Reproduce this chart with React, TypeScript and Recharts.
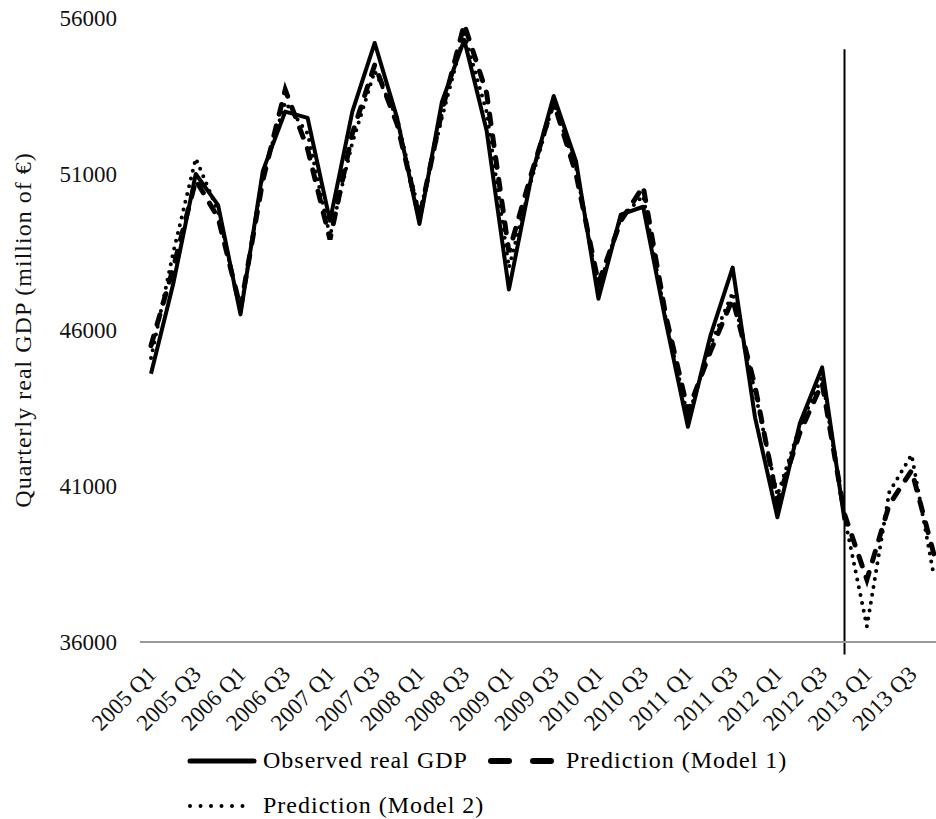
import React from "react";
import {
  LineChart,
  Line,
  XAxis,
  YAxis,
  Label,
  Legend,
  ReferenceLine,
} from "recharts";

const quarters = [
  "2005 Q1", "2005 Q2", "2005 Q3", "2005 Q4",
  "2006 Q1", "2006 Q2", "2006 Q3", "2006 Q4",
  "2007 Q1", "2007 Q2", "2007 Q3", "2007 Q4",
  "2008 Q1", "2008 Q2", "2008 Q3", "2008 Q4",
  "2009 Q1", "2009 Q2", "2009 Q3", "2009 Q4",
  "2010 Q1", "2010 Q2", "2010 Q3", "2010 Q4",
  "2011 Q1", "2011 Q2", "2011 Q3", "2011 Q4",
  "2012 Q1", "2012 Q2", "2012 Q3", "2012 Q4",
  "2013 Q1", "2013 Q2", "2013 Q3", "2013 Q4",
];

// observed series stops at 2012 Q4
const observed = [
  44600, 47500, 51000, 50000,
  46500, 51100, 53000, 52800,
  49500, 53000, 55200, 52800,
  49400, 53300, 55300, 52400,
  47300, 50900, 53500, 51400,
  47000, 49700, 49950, 46300,
  42900, 45800, 48000, 43200,
  40000, 43000, 44800, 39900,
  null, null, null, null,
];

const model1 = [
  45500, 48000, 50800, 49600,
  46700, 50800, 53700, 51800,
  48900, 52300, 54500, 52600,
  49600, 53000, 55800, 53600,
  48500, 51000, 53300, 51000,
  47500, 49500, 50600, 46500,
  43400, 45300, 47000, 44200,
  40500, 42700, 44300, 40100,
  38000, 40400, 41500, 38800,
];

const model2 = [
  45100, 48500, 51500, 49800,
  46600, 51000, 53300, 52300,
  49000, 52000, 54300, 52800,
  49700, 52800, 55500, 53000,
  48000, 50800, 53300, 51200,
  47300, 49600, 50300, 46400,
  43200, 45500, 47200, 44000,
  40700, 42900, 44500, 40000,
  36500, 40800, 42000, 38100,
];

const yTicks = [36000, 41000, 46000, 51000, 56000];

const data = quarters.map((q, i) => ({
  quarter: q,
  observed: observed[i],
  model1: model1[i],
  model2: model2[i],
}));

const FONT = "'Liberation Serif', 'Times New Roman', serif";

const legendItems = [
  { name: "Observed real GDP", dash: "", width: 5, len: 70, gap: 6, boxWidth: 301 },
  { name: "Prediction (Model 1)", dash: "18 24", width: 6, len: 66, gap: 12, boxWidth: 0 },
  { name: "Prediction (Model 2)", dash: "0 10.5", width: 4, len: 66, gap: 10, boxWidth: 0 },
];

function LegendIcon({ dash, width, len }: { dash: string; width: number; len: number }) {
  return (
    <svg width={len} height={12} style={{ display: "block" }}>
      <line
        x1={3}
        y1={6}
        x2={len - 3}
        y2={6}
        stroke="#000"
        strokeWidth={width}
        strokeDasharray={dash || undefined}
        strokeLinecap="round"
      />
    </svg>
  );
}

function renderLegend() {
  const item = (it: (typeof legendItems)[number]) => (
    <div
      key={it.name}
      style={{
        display: "flex",
        alignItems: "center",
        width: it.boxWidth || undefined,
        flexShrink: 0,
      }}
    >
      <LegendIcon dash={it.dash} width={it.width} len={it.len} />
      <span style={{ marginLeft: it.gap, fontSize: 24, letterSpacing: 1, color: "#000", whiteSpace: "nowrap" }}>
        {it.name}
      </span>
    </div>
  );
  return (
    <div style={{ height: 90, fontFamily: FONT }}>
      <div style={{ display: "flex", height: 45, alignItems: "center" }}>
        {item(legendItems[0])}
        {item(legendItems[1])}
      </div>
      <div style={{ display: "flex", height: 45, alignItems: "center" }}>
        {item(legendItems[2])}
      </div>
    </div>
  );
}

export default function App() {
  return (
    <div
      style={{
        position: "absolute",
        left: 0,
        top: 0,
        width: 936,
        height: 819,
        overflow: "hidden",
        background: "#fff",
      }}
    >
      <LineChart
        width={960}
        height={819}
        data={data}
        margin={{ top: 18, right: 15, bottom: 7, left: 0 }}
        style={{ fontFamily: FONT }}
      >
        <XAxis
          dataKey="quarter"
          interval={1}
          angle={-45}
          textAnchor="end"
          height={80}
          padding={{ left: 11, right: 11 }}
          tickLine={false}
          tickMargin={16}
          stroke="#999"
          strokeWidth={2}
          tick={{ fill: "#111", fontSize: 23, fontFamily: FONT, dx: -5 }}
        />
        <YAxis
          domain={[36000, 56000]}
          ticks={yTicks}
          width={140}
          axisLine={false}
          tickLine={false}
          tickMargin={17}
          tick={{ fill: "#111", fontSize: 23, fontFamily: FONT }}
        >
          <Label
            value="Quarterly real GDP (million of €)"
            angle={-90}
            position="insideLeft"
            offset={22}
            style={{ textAnchor: "middle", fontSize: 24, letterSpacing: 1, fill: "#111", fontFamily: FONT }}
          />
        </YAxis>
        <ReferenceLine
          segment={[
            { x: "2012 Q4", y: 55000 },
            { x: "2012 Q4", y: 35600 },
          ]}
          ifOverflow="visible"
          stroke="#000"
          strokeWidth={2}
        />
        <Line
          type="linear"
          dataKey="observed"
          stroke="#000"
          strokeWidth={4}
          dot={false}
          strokeLinejoin="round"
          isAnimationActive={false}
        />
        <Line
          type="linear"
          dataKey="model1"
          stroke="#000"
          strokeWidth={5}
          strokeDasharray="10 12"
          strokeLinecap="round"
          dot={false}
          isAnimationActive={false}
        />
        <Line
          type="linear"
          dataKey="model2"
          stroke="#000"
          strokeWidth={4}
          strokeDasharray="0 8"
          strokeLinecap="round"
          dot={false}
          isAnimationActive={false}
        />
        <Legend
          verticalAlign="bottom"
          content={renderLegend}
          wrapperStyle={{ top: 738, bottom: "auto", left: 187, width: 640 }}
        />
      </LineChart>
    </div>
  );
}
